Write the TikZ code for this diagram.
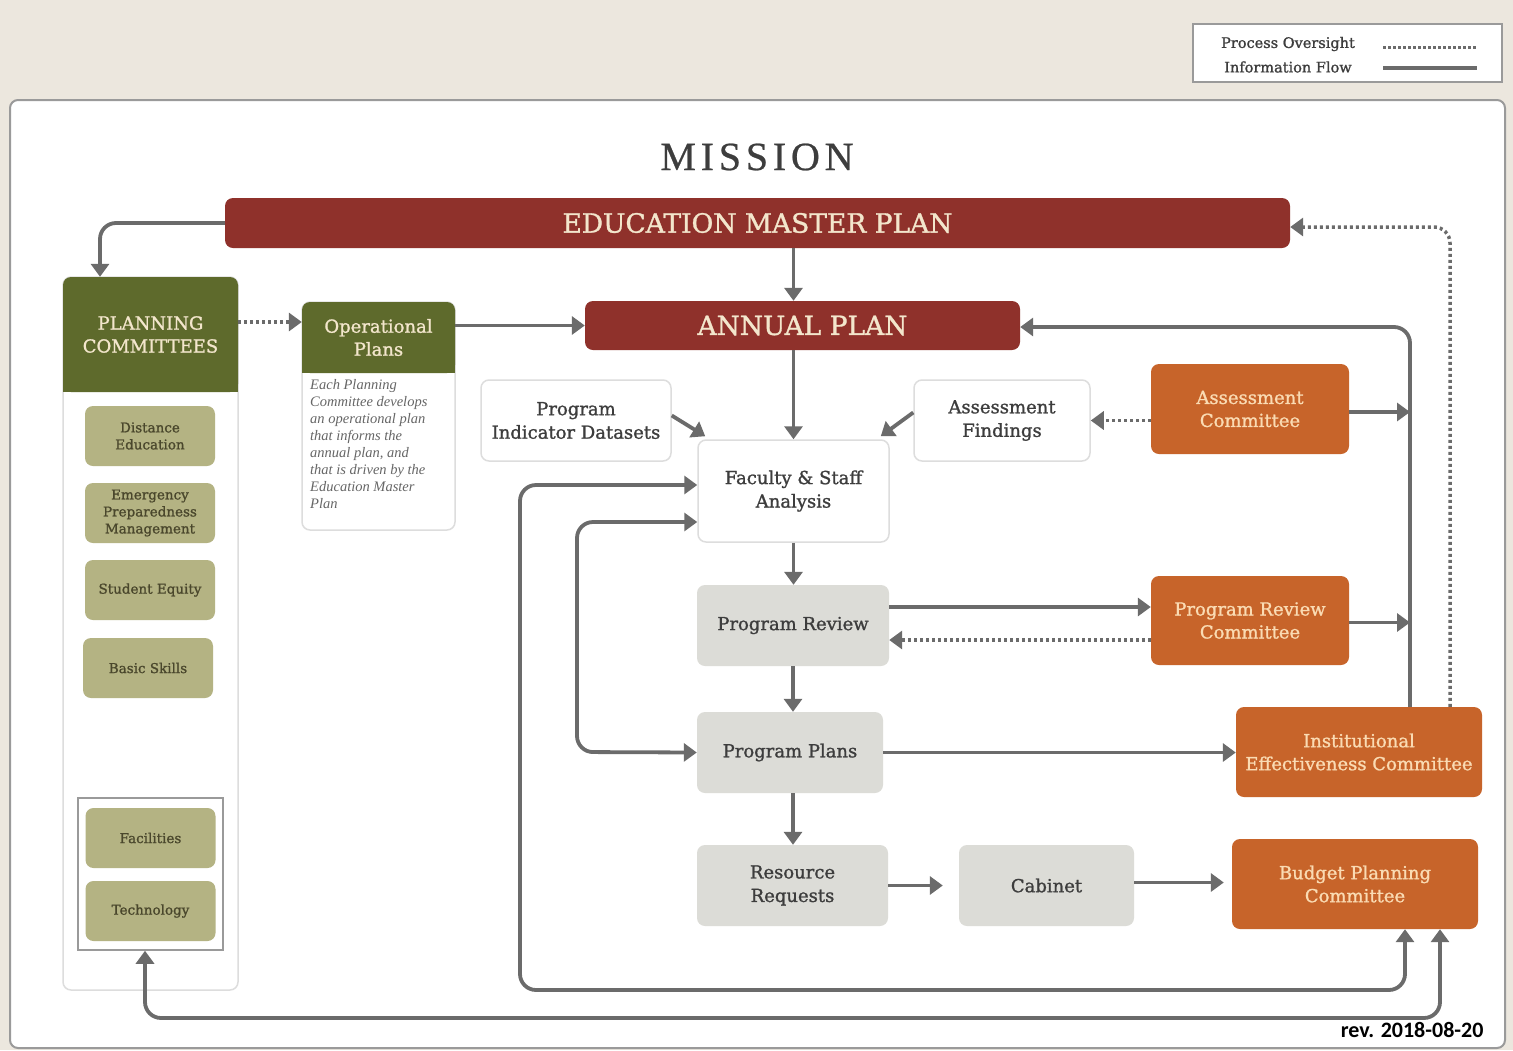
\documentclass[tikz,border=0pt]{standalone}
\usepackage{fontspec}
\setmainfont{DejaVu Serif}
\newfontfamily\slab[FakeBold=1.2]{DejaVu Serif}
\newfontfamily\itfont{Liberation Serif}
\newfontfamily\revfont{Carlito}
\newfontfamily\missionfont[LetterSpace=12,FakeBold=0.6]{Liberation Serif}
\usetikzlibrary{arrows.meta}
\definecolor{bgbeige}{HTML}{ECE7DE}
\definecolor{panelgray}{HTML}{9A9A9A}
\definecolor{redbox}{HTML}{8F312B}
\definecolor{olive}{HTML}{5E6A2C}
\definecolor{khaki}{HTML}{B4B383}
\definecolor{orangebox}{HTML}{C7642A}
\definecolor{graybox}{HTML}{DCDCD7}
\definecolor{arrowgray}{HTML}{6B6B6B}
\definecolor{txtdark}{HTML}{3D3D3D}
\definecolor{creamtxt}{HTML}{F3E6CC}
\definecolor{peachtxt}{HTML}{FADBB3}
\definecolor{khakitxt}{HTML}{4A472C}
\definecolor{lightborder}{HTML}{DDDDDD}
\definecolor{ittxt}{HTML}{666666}
\tikzset{
  base/.style={rounded corners=8pt, align=center, inner sep=2pt},
  redbar/.style={base, fill=redbox, text=creamtxt, font=\slab\fontsize{26.5}{30}\selectfont},
  olivehead/.style={base, fill=olive, text=creamtxt, font=\slab\fontsize{18}{23}\selectfont},
  whitebox/.style={base, fill=white, draw=lightborder, line width=1.5pt, text=txtdark, font=\slab\fontsize{18}{23.5}\selectfont},
  graynode/.style={base, fill=graybox, text=txtdark, font=\slab\fontsize{18}{23.5}\selectfont},
  orangenode/.style={base, fill=orangebox, text=peachtxt, font=\slab\fontsize{18}{23}\selectfont},
  subbox/.style={base, fill=khaki, text=khakitxt, font=\slab\fontsize{13.5}{17}\selectfont, minimum width=130pt, minimum height=60pt},
  flow/.style={draw=arrowgray, line width=3.8pt, -{Triangle[width=18pt,length=13pt]}},
  flowboth/.style={draw=arrowgray, line width=3.8pt, {Triangle[width=18pt,length=13pt]}-{Triangle[width=18pt,length=13pt]}, rounded corners=16pt},
  oversight/.style={draw=arrowgray, line width=3.5pt, dash pattern=on 3pt off 3pt, -{Triangle[width=18pt,length=13pt]}},
}
\begin{document}
\begin{tikzpicture}[x=1pt,y=-1pt]
\useasboundingbox (0,0) rectangle (1513,1050);
\fill[bgbeige] (0,0) rectangle (1513,1050);
\draw[draw=panelgray, line width=2pt, fill=white, rounded corners=8pt] (10,100) rectangle (1505,1048);

% legend
\node[draw=panelgray, line width=1.5pt, fill=white, minimum width=309pt, minimum height=58pt] (legend) at (1347.5,53) {};
\node[text=txtdark, font=\slab\fontsize{14.5}{16}\selectfont, anchor=center] (lgo) at (1288,44) {Process Oversight};
\node[text=txtdark, font=\slab\fontsize{14.5}{16}\selectfont, anchor=center] (lgi) at (1288,67) {Information Flow};
\draw[draw=arrowgray, line width=3pt, dash pattern=on 2.5pt off 2.5pt] (1383,47) -- (1477,47);
\draw[draw=arrowgray, line width=3.5pt] (1383,68) -- (1477,68);

% mission
\node[text=txtdark, font=\missionfont\fontsize{40}{44}\selectfont] (mission) at (757,157) {MISSION};

% main bars
\node[redbar, minimum width=1065pt, minimum height=50pt] (emp) at (757.5,223) {EDUCATION MASTER PLAN};
\node[redbar, minimum width=435pt, minimum height=49pt] (ann) at (802.5,325.5) {ANNUAL PLAN};

% planning committees column
\node[base, draw=lightborder, line width=1.5pt, fill=white, minimum width=175pt, minimum height=713pt] (pcbody) at (150.5,633.5) {};
\node[olivehead, minimum width=175pt, minimum height=115pt] (pc) at (150.5,334.5) {PLANNING\\COMMITTEES};
\fill[olive] (63,370) rectangle (238,392);
\node[subbox] (de) at (150,436) {Distance\\Education};
\node[subbox] (epm) at (150,513) {Emergency\\Preparedness\\Management};
\node[subbox] (se) at (150,590) {Student Equity};
\node[subbox] (bs) at (148,668) {Basic Skills};
\node[draw=panelgray, line width=1.5pt, minimum width=145pt, minimum height=152pt] (frame) at (150.5,874) {};
\node[subbox] (fac) at (150.5,838) {Facilities};
\node[subbox] (tech) at (150.5,911) {Technology};

% operational plans
\node[base, draw=lightborder, line width=1.5pt, fill=white, minimum width=153pt, minimum height=228pt] (opbody) at (378.5,416) {};
\node[olivehead, minimum width=153pt, minimum height=71pt] (op) at (378.5,337.5) {Operational\\Plans};
\fill[olive] (302,360) rectangle (455,373);
\node[anchor=north west, align=left, inner sep=0pt, text=ittxt, font=\itfont\itshape\fontsize{14.5}{17}\selectfont] (optext) at (310,379) {Each Planning\\Committee develops\\an operational plan\\that informs the\\annual plan, and\\that is driven by the\\Education Master\\Plan};

% central nodes
\node[whitebox, minimum width=190pt, minimum height=81pt] (pid) at (576,420.5) {Program\\Indicator Datasets};
\node[whitebox, minimum width=191pt, minimum height=102pt] (fsa) at (793.5,491) {Faculty \& Staff\\Analysis};
\node[whitebox, minimum width=176pt, minimum height=81pt] (af) at (1002,420.5) {Assessment\\Findings};
\node[orangenode, minimum width=198pt, minimum height=90pt] (ac) at (1250,409) {Assessment\\Committee};
\node[graynode, minimum width=192pt, minimum height=81pt] (pr) at (793,625.5) {Program Review};
\node[orangenode, minimum width=198pt, minimum height=89pt] (prc) at (1250,620.5) {Program Review\\Committee};
\node[graynode, minimum width=186pt, minimum height=81pt] (pp) at (790,752.5) {Program Plans};
\node[orangenode, minimum width=246pt, minimum height=90pt] (iec) at (1359,752) {Institutional\\Effectiveness Committee};
\node[graynode, minimum width=191pt, minimum height=81pt] (rr) at (792.5,885.5) {Resource\\Requests};
\node[graynode, minimum width=175pt, minimum height=81pt] (cab) at (1046.5,885.5) {Cabinet};
\node[orangenode, minimum width=246pt, minimum height=90pt] (bpc) at (1355,884) {Budget Planning\\Committee};

\node[anchor=east, text=black, font=\revfont\bfseries\fontsize{22}{24}\selectfont] (rev) at (1487,1030) {rev. 2018-08-20};

% helper coordinates
\coordinate (rl) at (1410,500);
\coordinate (l1) at (520,990);
\coordinate (l2) at (577,752);
\coordinate (l3) at (145,1018);

% connectors
\draw[flow, rounded corners=16pt] (emp.west) -| ([xshift=-50.5pt]pc.north);
\draw[flow] (emp.south -| fsa.north) -- (ann.north -| fsa.north);
\draw[flow] (ann.south -| fsa.north) -- (fsa.north);
\draw[oversight] ([yshift=12.5pt]pc.east) -- ([yshift=12.5pt]pc.east -| op.west);
\draw[flow] (ann.west -| op.east) -- (ann.west);
\draw[flow] ([yshift=5pt]pid.east) -- ([xshift=8pt,yshift=3pt]fsa.north west);
\draw[flow] ([yshift=8pt]af.west) -- ([xshift=-9pt,yshift=3pt]fsa.north east);
\draw[oversight] (ac.west |- af.east) -- (af.east);
\draw[flow] ([yshift=-3pt]ac.east) -- ([yshift=-3pt]ac.east -| rl);
\draw[flow] ([yshift=-2pt]prc.east) -- ([yshift=-2pt]prc.east -| rl);
\draw[flow, rounded corners=16pt] ([xshift=51pt]iec.north) |- ([yshift=-1.5pt]ann.east);
\draw[oversight, rounded corners=16pt] ([xshift=91pt]iec.north) |- ([yshift=-4pt]emp.east);
\draw[flow] (fsa.south) -- (fsa.south |- pr.north);
\draw[flow] ([yshift=18.5pt]pr.east) -- ([yshift=18.5pt]pr.east -| prc.west);
\draw[oversight] ([yshift=-19.5pt]prc.west) -- ([yshift=-19.5pt]prc.west -| pr.east);
\draw[flow] (pr.south) -- (pr.south |- pp.north);
\draw[flow] (pp.east) -- (pp.east -| iec.west);
\draw[flow] (pp.south -| pr.south) -- (pr.south |- rr.north);
\draw[flow] (rr.east) -- ([xshift=-16pt]cab.west);
\draw[flow] ([yshift=3pt]cab.east) -- ([yshift=3pt,xshift=-8pt]cab.east -| bpc.west);
\draw[flowboth] ([yshift=6pt]fsa.west) -| (l1) -| ([xshift=50pt]bpc.south);
\draw[flowboth] ([yshift=-31pt]fsa.west) -| (l2) -- (pp.west);
\draw[flowboth] ([xshift=-5.5pt]frame.south) -- (l3) -| ([xshift=85pt]bpc.south);
\end{tikzpicture}
\end{document}
